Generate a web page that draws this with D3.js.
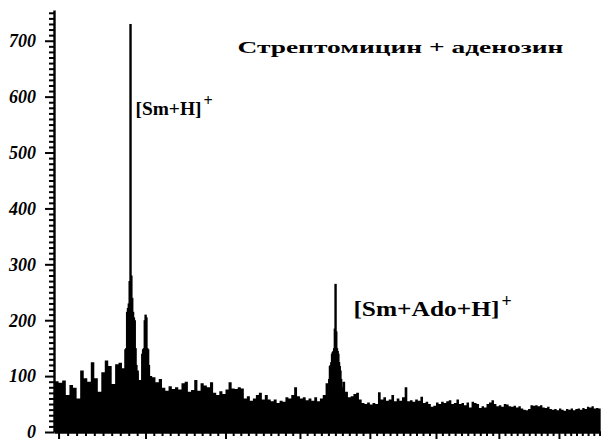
<!DOCTYPE html>
<html><head><meta charset="utf-8">
<script src="https://cdn.jsdelivr.net/npm/d3@7"></script>
<style>body{margin:0;background:#fff}svg{display:block}</style>
</head><body><svg id="c" width="601" height="443" xmlns="http://www.w3.org/2000/svg"></svg>
<script>
// ---- data ----
const mzStart = 496, mzStep = 4;
const noise = [
 91,88,92,66,84,79,60,110,96,90,125,96,72,107,128,118,86,121,124,114,
 90,110,120,110,93,92,110,100,98,89,95,79,74,82,77,80,76,87,90,72,
 75,93,74,87,83,80,89,70,66,73,68,76,89,78,77,80,78,60,64,56,
 60,66,70,58,66,58,55,58,52,56,54,62,60,66,80,64,60,62,57,60,
 56,62,55,60,66,87,70,80,80,80,80,90,72,62,64,68,70,58,52,50,
 53,49,52,50,71,58,62,56,58,66,55,60,56,62,80,55,57,54,58,56,
 63,52,54,50,45,47,53,50,54,52,55,57,50,52,58,50,52,48,53,44,
 54,52,50,43,46,44,50,53,57,50,46,48,45,50,49,46,45,47,44,46,
 42,40,39,41,48,47,48,46,48,44,43,45,41,40,41,39,42,40,38,41,
 40,42,39,41,42,40,43,41,45,44,46,42,43,42,40
];
const peakMz  = [576,577,578,579,580,581,582,583,584,585,586,587,588,589,590,
                 596,597,598,599,600,601,602,603,604,
                 841,842,843,844,845,846,847,848,849,850,851,852,853,854,855,856,857,858];
const peakInt = [148,150,215,222,230,270,730,280,240,215,205,200,150,120,105,
                 140,148,150,200,210,205,150,148,120,
                 95,118,120,125,140,143,145,150,185,265,180,150,145,140,125,118,110,95];
const yTickValues = [0,100,200,300,400,500,600,700];
const yMinorValues = [5,15,25,35,45,55,65,75,85,95].flatMap(a=>[0,100,200,300,400,500,600,700].map(b=>a+b)).filter(v=>v<=755);
const xMinorValues = d3.range(505,1280,10);
const titleText = "Стрептомицин + аденозин";
const ionLabels = ["[Sm+H]", "[Sm+Ado+H]"];
const ionMz = [582, 850];

// ---- drawing ----
const FONT = "'Liberation Serif', 'Times New Roman', serif";
const svg = d3.select("#c");
const x = d3.scalePow().exponent(0.5).domain([495,1275]).range([54,602.4]);
const y = d3.scaleLinear().domain([0,755]).range([432,10]);

const pts = noise.map((v,i)=>({m: mzStart + i*mzStep, v}));
svg.append("path").datum(pts)
  .attr("d", d3.area().x(d=>x(d.m)).y0(y(0)).y1(d=>y(d.v)).curve(d3.curveStepAfter))
  .attr("fill","#000");

svg.append("g").selectAll("rect").data(peakMz.map((m,i)=>({m, v: peakInt[i]})))
  .join("rect")
  .attr("x", d=>x(d.m-0.5)-0.7)
  .attr("width", d=>Math.max(2.4, x(d.m+0.5)-x(d.m-0.5)+1.4))
  .attr("y", d=>y(d.v))
  .attr("height", d=>y(0)-y(d.v))
  .attr("fill","#000");

// axes: major ticks + minor ticks at 10-unit spacing
const axisG = svg.append("g");
const gy = axisG.append("g").attr("transform","translate(54,0)")
  .call(d3.axisLeft(y).tickValues(d3.range(0,760,10)).tickSize(5).tickSizeOuter(0).tickFormat(""));
const gx = axisG.append("g").attr("transform","translate(0,432)")
  .call(d3.axisBottom(x).tickValues(d3.range(500,1280,10)).tickSize(4).tickSizeOuter(0).tickFormat(""));
axisG.selectAll("path.domain").attr("stroke","#000").attr("stroke-width",2.4);
axisG.selectAll(".tick line").attr("stroke","#000").attr("stroke-width",2);
gy.selectAll(".tick").filter(d=>d%100===0).select("line").attr("x2",-9);
gx.selectAll(".tick").filter(d=>d%100===0).select("line").attr("y2",7);

// y labels
axisG.append("g").selectAll("text").data(yTickValues).join("text")
  .attr("x",36).attr("y", d=>y(d)).attr("dy","0.35em")
  .attr("text-anchor","end")
  .style("font-family",FONT).style("font-weight","700").style("font-style","italic")
  .style("font-size","18px").style("fill","#000")
  .text(d=>d);

// annotations
svg.append("text").attr("x", x(582)+107).attr("y", y(678))
  .style("font-family",FONT).style("font-weight","700").style("font-size","17px").style("fill","#000")
  .attr("textLength",326).attr("lengthAdjust","spacingAndGlyphs")
  .text(titleText);

function ion(i, dx, val, size, len){
  const t = svg.append("text").attr("x", x(ionMz[i])+dx).attr("y", y(val))
    .style("font-family",FONT).style("font-weight","700").style("font-size",size+"px").style("fill","#000");
  t.append("tspan").attr("textLength",len).attr("lengthAdjust","spacingAndGlyphs").text(ionLabels[i]);
  t.append("tspan").attr("dy",-9).attr("dx",2).style("font-size",(size*0.85)+"px").style("fill","#000").text("+");
}
ion(0, 5, 568, 19, 66);
ion(1, 18, 207, 21, 146);
</script></body></html>
